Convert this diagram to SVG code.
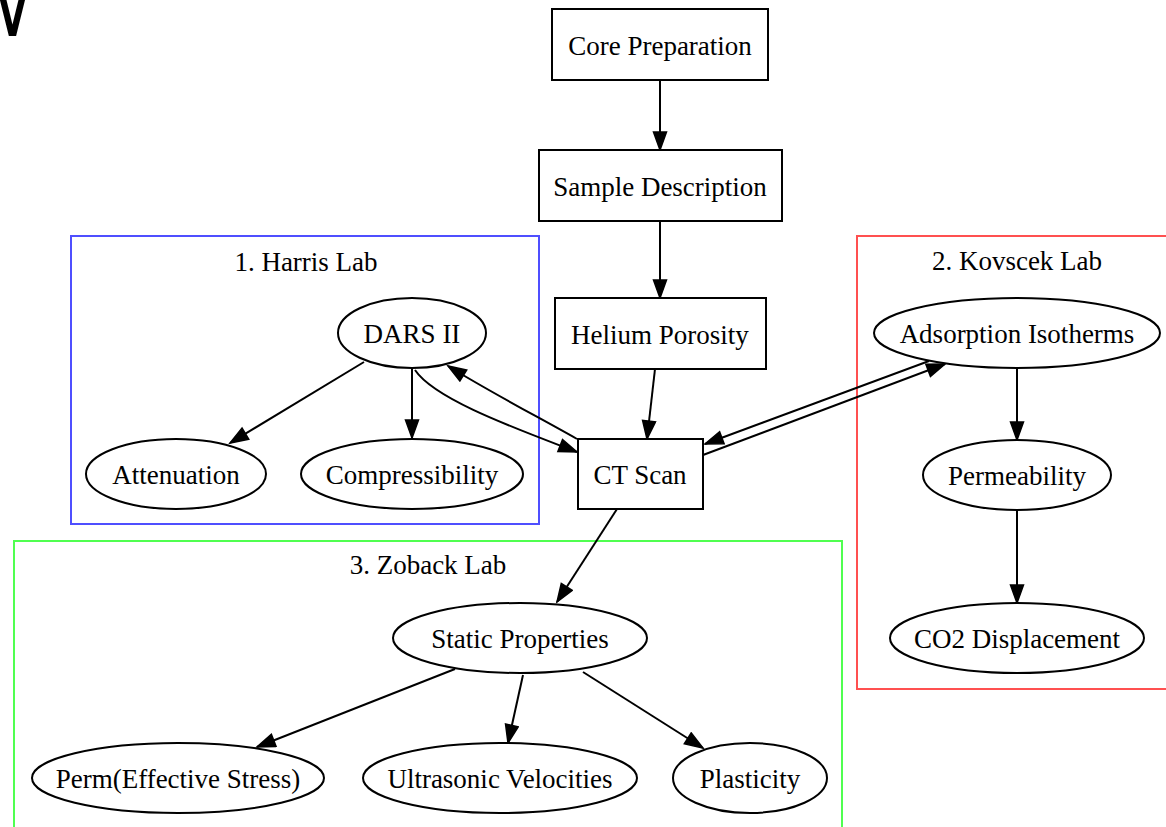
<svg xmlns="http://www.w3.org/2000/svg" width="1166" height="827" viewBox="0 0 1166 827">
<style>
  .n { fill: #ffffff; stroke: #000000; stroke-width: 2; }
  .t { font-family: "Liberation Serif", "Times New Roman", serif; font-size: 27px; fill: #000000; text-anchor: middle; }
  .e { fill: none; stroke: #000000; stroke-width: 2; marker-end: url(#ah); }
  .cl { fill: none; stroke-width: 2; }
</style>
<defs>
  <marker id="ah" markerUnits="userSpaceOnUse" markerWidth="22" markerHeight="16" viewBox="-1 -1 21 16" refX="18" refY="6.5" orient="auto">
    <path d="M0,0 L18,6.5 L0,13 Z" fill="#000000" stroke="#000000" stroke-width="1.5"/>
  </marker>
</defs>
<rect x="0" y="0" width="1166" height="827" fill="#ffffff"/>
<text x="-15" y="36" font-family="DejaVu Sans, sans-serif" font-size="100" transform="scale(0.65,1)" fill="#000000">V</text>

<g id="cluster_harris">
  <rect class="cl" x="71" y="236" width="468" height="288" stroke="#4f4fff"/>
  <text class="t" x="306" y="271">1. Harris Lab</text>
</g>
<g id="cluster_kovscek">
  <rect class="cl" x="857" y="236" width="320" height="453" stroke="#ff5050"/>
  <text class="t" x="1017" y="270">2. Kovscek Lab</text>
</g>
<g id="cluster_zoback">
  <rect class="cl" x="14" y="541" width="828" height="300" stroke="#50ff50"/>
  <text class="t" x="428" y="574">3. Zoback Lab</text>
</g>

<g id="connectors">
  <path class="e" d="M660,80 L660,150"/>
  <path class="e" d="M660,221 L660,298"/>
  <path class="e" d="M655,369 L647,439"/>
  <path class="e" d="M364,362 L230,443"/>
  <path class="e" d="M412,368 L412,438"/>
  <path class="e" d="M415,370 C435,400 520,430 577,452"/>
  <path class="e" d="M577,439 C540,418 490,392 448,366"/>
  <path class="e" d="M703,455 L945,364"/>
  <path class="e" d="M929,361 L705,444"/>
  <path class="e" d="M617,509 L557,602"/>
  <path class="e" d="M1017,368 L1017,440"/>
  <path class="e" d="M1017,510 L1017,603"/>
  <path class="e" d="M455,669 L257,747"/>
  <path class="e" d="M523,675 L508,743"/>
  <path class="e" d="M583,672 L703,748"/>
</g>

<g id="core_preparation">
  <rect class="n" x="552" y="9" width="216" height="71"/>
  <text class="t" x="660" y="55">Core Preparation</text>
</g>
<g id="sample_description">
  <rect class="n" x="539" y="150" width="243" height="71"/>
  <text class="t" x="660" y="196">Sample Description</text>
</g>
<g id="helium_porosity">
  <rect class="n" x="555" y="298" width="211" height="71"/>
  <text class="t" x="660" y="344">Helium Porosity</text>
</g>
<g id="ct_scan">
  <rect class="n" x="578" y="439" width="125" height="70"/>
  <text class="t" x="640" y="484">CT Scan</text>
</g>
<g id="dars_ii">
  <ellipse class="n" cx="412" cy="333" rx="74" ry="35"/>
  <text class="t" x="412" y="343">DARS II</text>
</g>
<g id="attenuation">
  <ellipse class="n" cx="176" cy="474" rx="90" ry="35"/>
  <text class="t" x="176" y="484">Attenuation</text>
</g>
<g id="compressibility">
  <ellipse class="n" cx="412" cy="474" rx="111" ry="35"/>
  <text class="t" x="412" y="484">Compressibility</text>
</g>
<g id="adsorption_isotherms">
  <ellipse class="n" cx="1017" cy="333" rx="143" ry="35"/>
  <text class="t" x="1017" y="343">Adsorption Isotherms</text>
</g>
<g id="permeability">
  <ellipse class="n" cx="1017" cy="475" rx="94" ry="35"/>
  <text class="t" x="1017" y="485">Permeability</text>
</g>
<g id="co2_displacement">
  <ellipse class="n" cx="1017" cy="638" rx="127" ry="35"/>
  <text class="t" x="1017" y="648">CO2 Displacement</text>
</g>
<g id="static_properties">
  <ellipse class="n" cx="520" cy="638" rx="127" ry="35"/>
  <text class="t" x="520" y="648">Static Properties</text>
</g>
<g id="perm_effective_stress">
  <ellipse class="n" cx="178" cy="778" rx="146" ry="35"/>
  <text class="t" x="178" y="788">Perm(Effective Stress)</text>
</g>
<g id="ultrasonic_velocities">
  <ellipse class="n" cx="500" cy="778" rx="137" ry="35"/>
  <text class="t" x="500" y="788">Ultrasonic Velocities</text>
</g>
<g id="plasticity">
  <ellipse class="n" cx="750" cy="778" rx="77" ry="35"/>
  <text class="t" x="750" y="788">Plasticity</text>
</g>
</svg>
